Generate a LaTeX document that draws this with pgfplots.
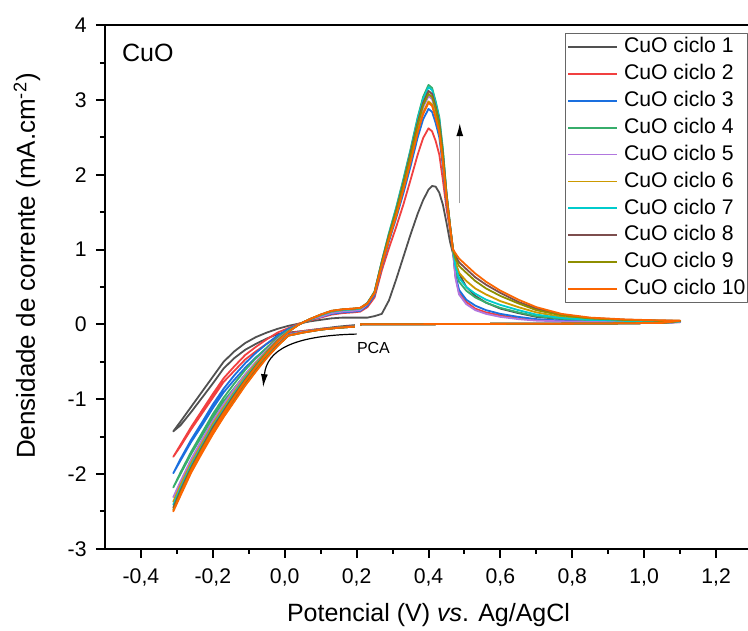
\documentclass[border=0pt]{standalone}
\usepackage{pgfplots}
\pgfplotsset{compat=1.18}
\usepackage{pgfplotstable}
\usepackage{fontspec}
\setmainfont{Liberation Sans}
\usetikzlibrary{arrows.meta}

\definecolor{cyc1}{HTML}{515151}
\definecolor{cyc2}{HTML}{F14040}
\definecolor{cyc3}{HTML}{1A6FDF}
\definecolor{cyc4}{HTML}{37AD6B}
\definecolor{cyc5}{HTML}{B177DE}
\definecolor{cyc6}{HTML}{CC9900}
\definecolor{cyc7}{HTML}{00CBCC}
\definecolor{cyc8}{HTML}{7D4E4E}
\definecolor{cyc9}{HTML}{8E8E00}
\definecolor{cyc10}{HTML}{FB6501}

% potencial (V) e densidade de corrente de cada ciclo, na ordem da varredura
\pgfplotstableread{
V      c1     c2     c3     c4     c5     c6     c7     c8     c9     c10
0.195  -0.01  -0.02  -0.025 -0.03  -0.03  -0.03  -0.03  -0.03  -0.03  -0.03
0.15   -0.03  -0.04  -0.04  -0.045 -0.045 -0.045 -0.045 -0.045 -0.045 -0.045
0.10   -0.06  -0.06  -0.065 -0.07  -0.07  -0.07  -0.07  -0.07  -0.07  -0.07
0.05   -0.09  -0.09  -0.10  -0.10  -0.10  -0.11  -0.11  -0.11  -0.11  -0.11
0.01   -0.11  -0.12  -0.13  -0.14  -0.14  -0.15  -0.15  -0.15  -0.15  -0.15
-0.02  -0.13  -0.17  -0.21  -0.24  -0.26  -0.27  -0.28  -0.28  -0.29  -0.29
-0.05  -0.19  -0.26  -0.32  -0.37  -0.40  -0.42  -0.43  -0.44  -0.44  -0.45
-0.08  -0.26  -0.36  -0.44  -0.51  -0.56  -0.58  -0.60  -0.61  -0.62  -0.63
-0.11  -0.34  -0.47  -0.58  -0.67  -0.73  -0.76  -0.78  -0.80  -0.81  -0.82
-0.14  -0.45  -0.62  -0.74  -0.85  -0.92  -0.96  -0.98  -1.00  -1.02  -1.03
-0.17  -0.59  -0.77  -0.91  -1.03  -1.12  -1.16  -1.19  -1.21  -1.23  -1.24
-0.20  -0.79  -0.98  -1.12  -1.25  -1.34  -1.38  -1.41  -1.43  -1.46  -1.47
-0.23  -0.98  -1.19  -1.35  -1.49  -1.58  -1.63  -1.66  -1.68  -1.70  -1.72
-0.26  -1.17  -1.40  -1.57  -1.73  -1.83  -1.88  -1.91  -1.94  -1.96  -1.98
-0.29  -1.35  -1.63  -1.82  -2.00  -2.12  -2.17  -2.21  -2.24  -2.27  -2.29
-0.31  -1.43  -1.77  -1.99  -2.18  -2.31  -2.37  -2.41  -2.45  -2.48  -2.50
-0.29  -1.30  -1.61  -1.80  -1.98  -2.10  -2.15  -2.19  -2.22  -2.25  -2.27
-0.26  -1.10  -1.37  -1.54  -1.70  -1.80  -1.85  -1.88  -1.91  -1.93  -1.95
-0.23  -0.90  -1.15  -1.31  -1.45  -1.54  -1.59  -1.62  -1.64  -1.66  -1.68
-0.20  -0.70  -0.93  -1.07  -1.20  -1.29  -1.33  -1.36  -1.38  -1.41  -1.42
-0.17  -0.50  -0.72  -0.86  -0.98  -1.07  -1.11  -1.14  -1.16  -1.18  -1.19
-0.14  -0.36  -0.56  -0.68  -0.79  -0.86  -0.90  -0.92  -0.94  -0.96  -0.97
-0.11  -0.25  -0.41  -0.52  -0.61  -0.67  -0.70  -0.72  -0.74  -0.75  -0.76
-0.08  -0.17  -0.30  -0.38  -0.45  -0.50  -0.52  -0.54  -0.55  -0.56  -0.57
-0.05  -0.11  -0.20  -0.26  -0.31  -0.34  -0.36  -0.37  -0.38  -0.38  -0.39
-0.02  -0.06  -0.11  -0.15  -0.18  -0.20  -0.21  -0.22  -0.22  -0.23  -0.23
0.01   -0.02  -0.05  -0.06  -0.08  -0.09  -0.09  -0.09  -0.10  -0.10  -0.10
0.04   0.01   0.01   0.00   0.00   0.00   0.00   0.00   0.00   0.00   0.00
0.07   0.04   0.05   0.06   0.06   0.07   0.07   0.07   0.07   0.07   0.07
0.10   0.06   0.09   0.10   0.11   0.10   0.12   0.12   0.13   0.13   0.13
0.13   0.08   0.13   0.14   0.16   0.15   0.17   0.17   0.18   0.18   0.18
0.16   0.09   0.15   0.16   0.18   0.17   0.19   0.19   0.20   0.20   0.20
0.19   0.09   0.16   0.17   0.19   0.18   0.20   0.20   0.21   0.21   0.21
0.21   0.09   0.17   0.18   0.20   0.19   0.21   0.21   0.22   0.22   0.22
0.23   0.09   0.23   0.25   0.28   0.27   0.28   0.29   0.28   0.28   0.28
0.25   0.11   0.36   0.39   0.44   0.42   0.42   0.43   0.43   0.43   0.42
0.27   0.14   0.72   0.77   0.84   0.81   0.80   0.84   0.83   0.82   0.79
0.29   0.32   1.02   1.11   1.22   1.17   1.14   1.21   1.19   1.18   1.14
0.31   0.60   1.30   1.42   1.56   1.49   1.46   1.55   1.52   1.51   1.45
0.33   0.90   1.60   1.75   1.94   1.85   1.81   1.92   1.89   1.87   1.80
0.35   1.20   1.93   2.11   2.34   2.24   2.19   2.32   2.29   2.26   2.17
0.37   1.48   2.27   2.50   2.77   2.64   2.58   2.75   2.70   2.67   2.57
0.385  1.66   2.49   2.74   3.04   2.90   2.83   3.01   2.96   2.93   2.81
0.40   1.80   2.62   2.88   3.20   3.05   2.98   3.17   3.12   3.08   2.96
0.41   1.85   2.58   2.84   3.16   3.01   2.94   3.13   3.08   3.04   2.92
0.42   1.84   2.45   2.69   2.98   2.85   2.78   2.96   2.91   2.88   2.76
0.43   1.76   2.27   2.50   2.77   2.64   2.58   2.75   2.70   2.67   2.57
0.44   1.60   1.93   2.11   2.34   2.24   2.19   2.32   2.29   2.26   2.17
0.45   1.36   1.55   1.64   1.75   1.72   1.70   1.76   1.75   1.74   1.70
0.46   1.10   1.25   1.28   1.32   1.30   1.30   1.32   1.32   1.31   1.30
0.468  0.95   0.98   0.99   1.00   1.00   1.00   1.01   1.01   1.00   1.00
0.475  0.82   0.64   0.66   0.74   0.62   0.82   0.77   0.92   0.88   0.95
0.485  0.68   0.42   0.46   0.57   0.40   0.69   0.62   0.83   0.78   0.88
0.505  0.50   0.30   0.33   0.45   0.27   0.58   0.50   0.74   0.69   0.79
0.53   0.38   0.21   0.25   0.36   0.19   0.48   0.41   0.63   0.58   0.68
0.56   0.29   0.16   0.19   0.29   0.14   0.40   0.33   0.53   0.48   0.57
0.60   0.21   0.12   0.14   0.22   0.10   0.31   0.26   0.42   0.38   0.45
0.65   0.15   0.08   0.10   0.16   0.07   0.23   0.19   0.30   0.28   0.33
0.70   0.10   0.06   0.07   0.11   0.05   0.16   0.13   0.21   0.19   0.23
0.77   0.07   0.045  0.05   0.075  0.04   0.10   0.085  0.13   0.12   0.14
0.85   0.05   0.04   0.04   0.054  0.035  0.068  0.06   0.085  0.079  0.09
0.95   0.04   0.03   0.034  0.042  0.03   0.051  0.046  0.062  0.058  0.065
1.03   0.04   0.03   0.033  0.039  0.03   0.045  0.041  0.053  0.05   0.055
1.10   0.036  0.03   0.032  0.037  0.03   0.042  0.039  0.048  0.046  0.05
1.05   0.02   0.02   0.02   0.02   0.02   0.02   0.02   0.02   0.02   0.02
0.90   0.012  0.012  0.012  0.012  0.012  0.012  0.012  0.012  0.012  0.012
0.70   0.008  0.008  0.008  0.008  0.008  0.008  0.008  0.008  0.008  0.008
0.50   0.005  0.005  0.005  0.005  0.005  0.005  0.005  0.005  0.005  0.005
0.35   0.002  0.002  0.002  0.002  0.002  0.002  0.002  0.002  0.002  0.002
0.21   0.0    0.0    0.0    0.0    0.0    0.0    0.0    0.0    0.0    0.0
}\cv

\begin{document}
\begin{tikzpicture}
\begin{axis}[
    name=ax,
    scale only axis,
    width=323.5pt, height=261.85pt,
    xmin=-0.5, xmax=1.3, ymin=-3, ymax=4,
    xtick={-0.4,-0.2,0,0.2,0.4,0.6,0.8,1.0,1.2},
    ytick={-3,-2,-1,0,1,2,3,4},
    minor x tick num=1, minor y tick num=1,
    tick align=outside, xtick pos=bottom, ytick pos=left,
    major tick length=4.5pt, minor tick length=2.5pt,
    axis line style={line width=1pt},
    every tick/.append style={black, line width=1pt},
    every minor tick/.append style={black, line width=1pt},
    /pgf/number format/assume math mode=true,
    xticklabel style={font=\fontsize{10.6}{12}\selectfont, anchor=north, inner sep=0pt, yshift=-5pt,
        /pgf/number format/.cd, fixed, fixed zerofill, precision=1, use comma},
    yticklabel style={font=\fontsize{10.6}{12}\selectfont, anchor=east, inner sep=0pt, xshift=-4.5pt},
    xlabel={Potencial (V) \textit{vs}. Ag/AgCl},
    xlabel style={font=\fontsize{12.5}{15}\selectfont, at={(axis description cs:0.5,0)}, anchor=base, yshift=-36.15pt},
    ylabel={Densidade de corrente (mA.cm\textsuperscript{-2})},
    ylabel style={font=\fontsize{13}{15}\selectfont, at={(axis description cs:-0.1206,0.54)}, anchor=center},
    legend style={at={(rel axis cs:0.711,0.985)}, anchor=north west, draw=black!60, line width=0.5pt,
        fill=white, inner xsep=1pt, inner ysep=2pt, row sep=3.95pt, column sep=2.85pt,
        font=\fontsize{10.6}{12}\selectfont,
        nodes={inner sep=0pt, text height=7.6pt, text depth=1.9pt}},
    legend cell align=left,
    legend image code/.code={\draw[#1] (0pt,0pt) -- (24.5pt,0pt);},
    line join=round,
]
\addplot[cyc1, line width=0.9pt] table[x=V, y=c1] {\cv};
\addlegendentry{CuO ciclo 1}
\addplot[cyc2, line width=0.9pt] table[x=V, y=c2] {\cv};
\addlegendentry{CuO ciclo 2}
\addplot[cyc3, line width=0.9pt] table[x=V, y=c3] {\cv};
\addlegendentry{CuO ciclo 3}
\addplot[cyc4, line width=0.9pt] table[x=V, y=c4] {\cv};
\addlegendentry{CuO ciclo 4}
\addplot[cyc5, line width=0.9pt] table[x=V, y=c5] {\cv};
\addlegendentry{CuO ciclo 5}
\addplot[cyc6, line width=0.9pt] table[x=V, y=c6] {\cv};
\addlegendentry{CuO ciclo 6}
\addplot[cyc7, line width=0.9pt] table[x=V, y=c7] {\cv};
\addlegendentry{CuO ciclo 7}
\addplot[cyc8, line width=0.9pt] table[x=V, y=c8] {\cv};
\addlegendentry{CuO ciclo 8}
\addplot[cyc9, line width=0.9pt] table[x=V, y=c9] {\cv};
\addlegendentry{CuO ciclo 9}
\addplot[cyc10, line width=0.9pt] table[x=V, y=c10] {\cv};
\addlegendentry{CuO ciclo 10}

\node[anchor=base west, inner sep=0pt, font=\fontsize{12.5}{15}\selectfont]
    at ([xshift=8.35pt,yshift=-18.3pt]rel axis cs:0,1) {CuO};
\node[anchor=base west, inner sep=0pt, font=\fontsize{8}{10}\selectfont]
    at (axis cs:0.2,-0.388) {PCA};
\draw[gray!75, line width=0.7pt, -{Latex[color=black, length=6.5pt, width=3.5pt]}]
    (axis cs:0.487,1.62) -- (axis cs:0.487,2.69);
\draw[black, line width=0.6pt, -{Latex[length=6.5pt, width=3.5pt]}]
    (axis cs:0.2,-0.13) .. controls (axis cs:0.02,-0.15) and (axis cs:-0.05,-0.35) .. (axis cs:-0.06,-0.84);
\end{axis}
\pgfresetboundingbox
\path[use as bounding box] ([xshift=-52.5pt,yshift=-40.65pt]ax.south west)
    rectangle ([xshift=-2pt,yshift=12.55pt]ax.north east);
\end{tikzpicture}
\end{document}
